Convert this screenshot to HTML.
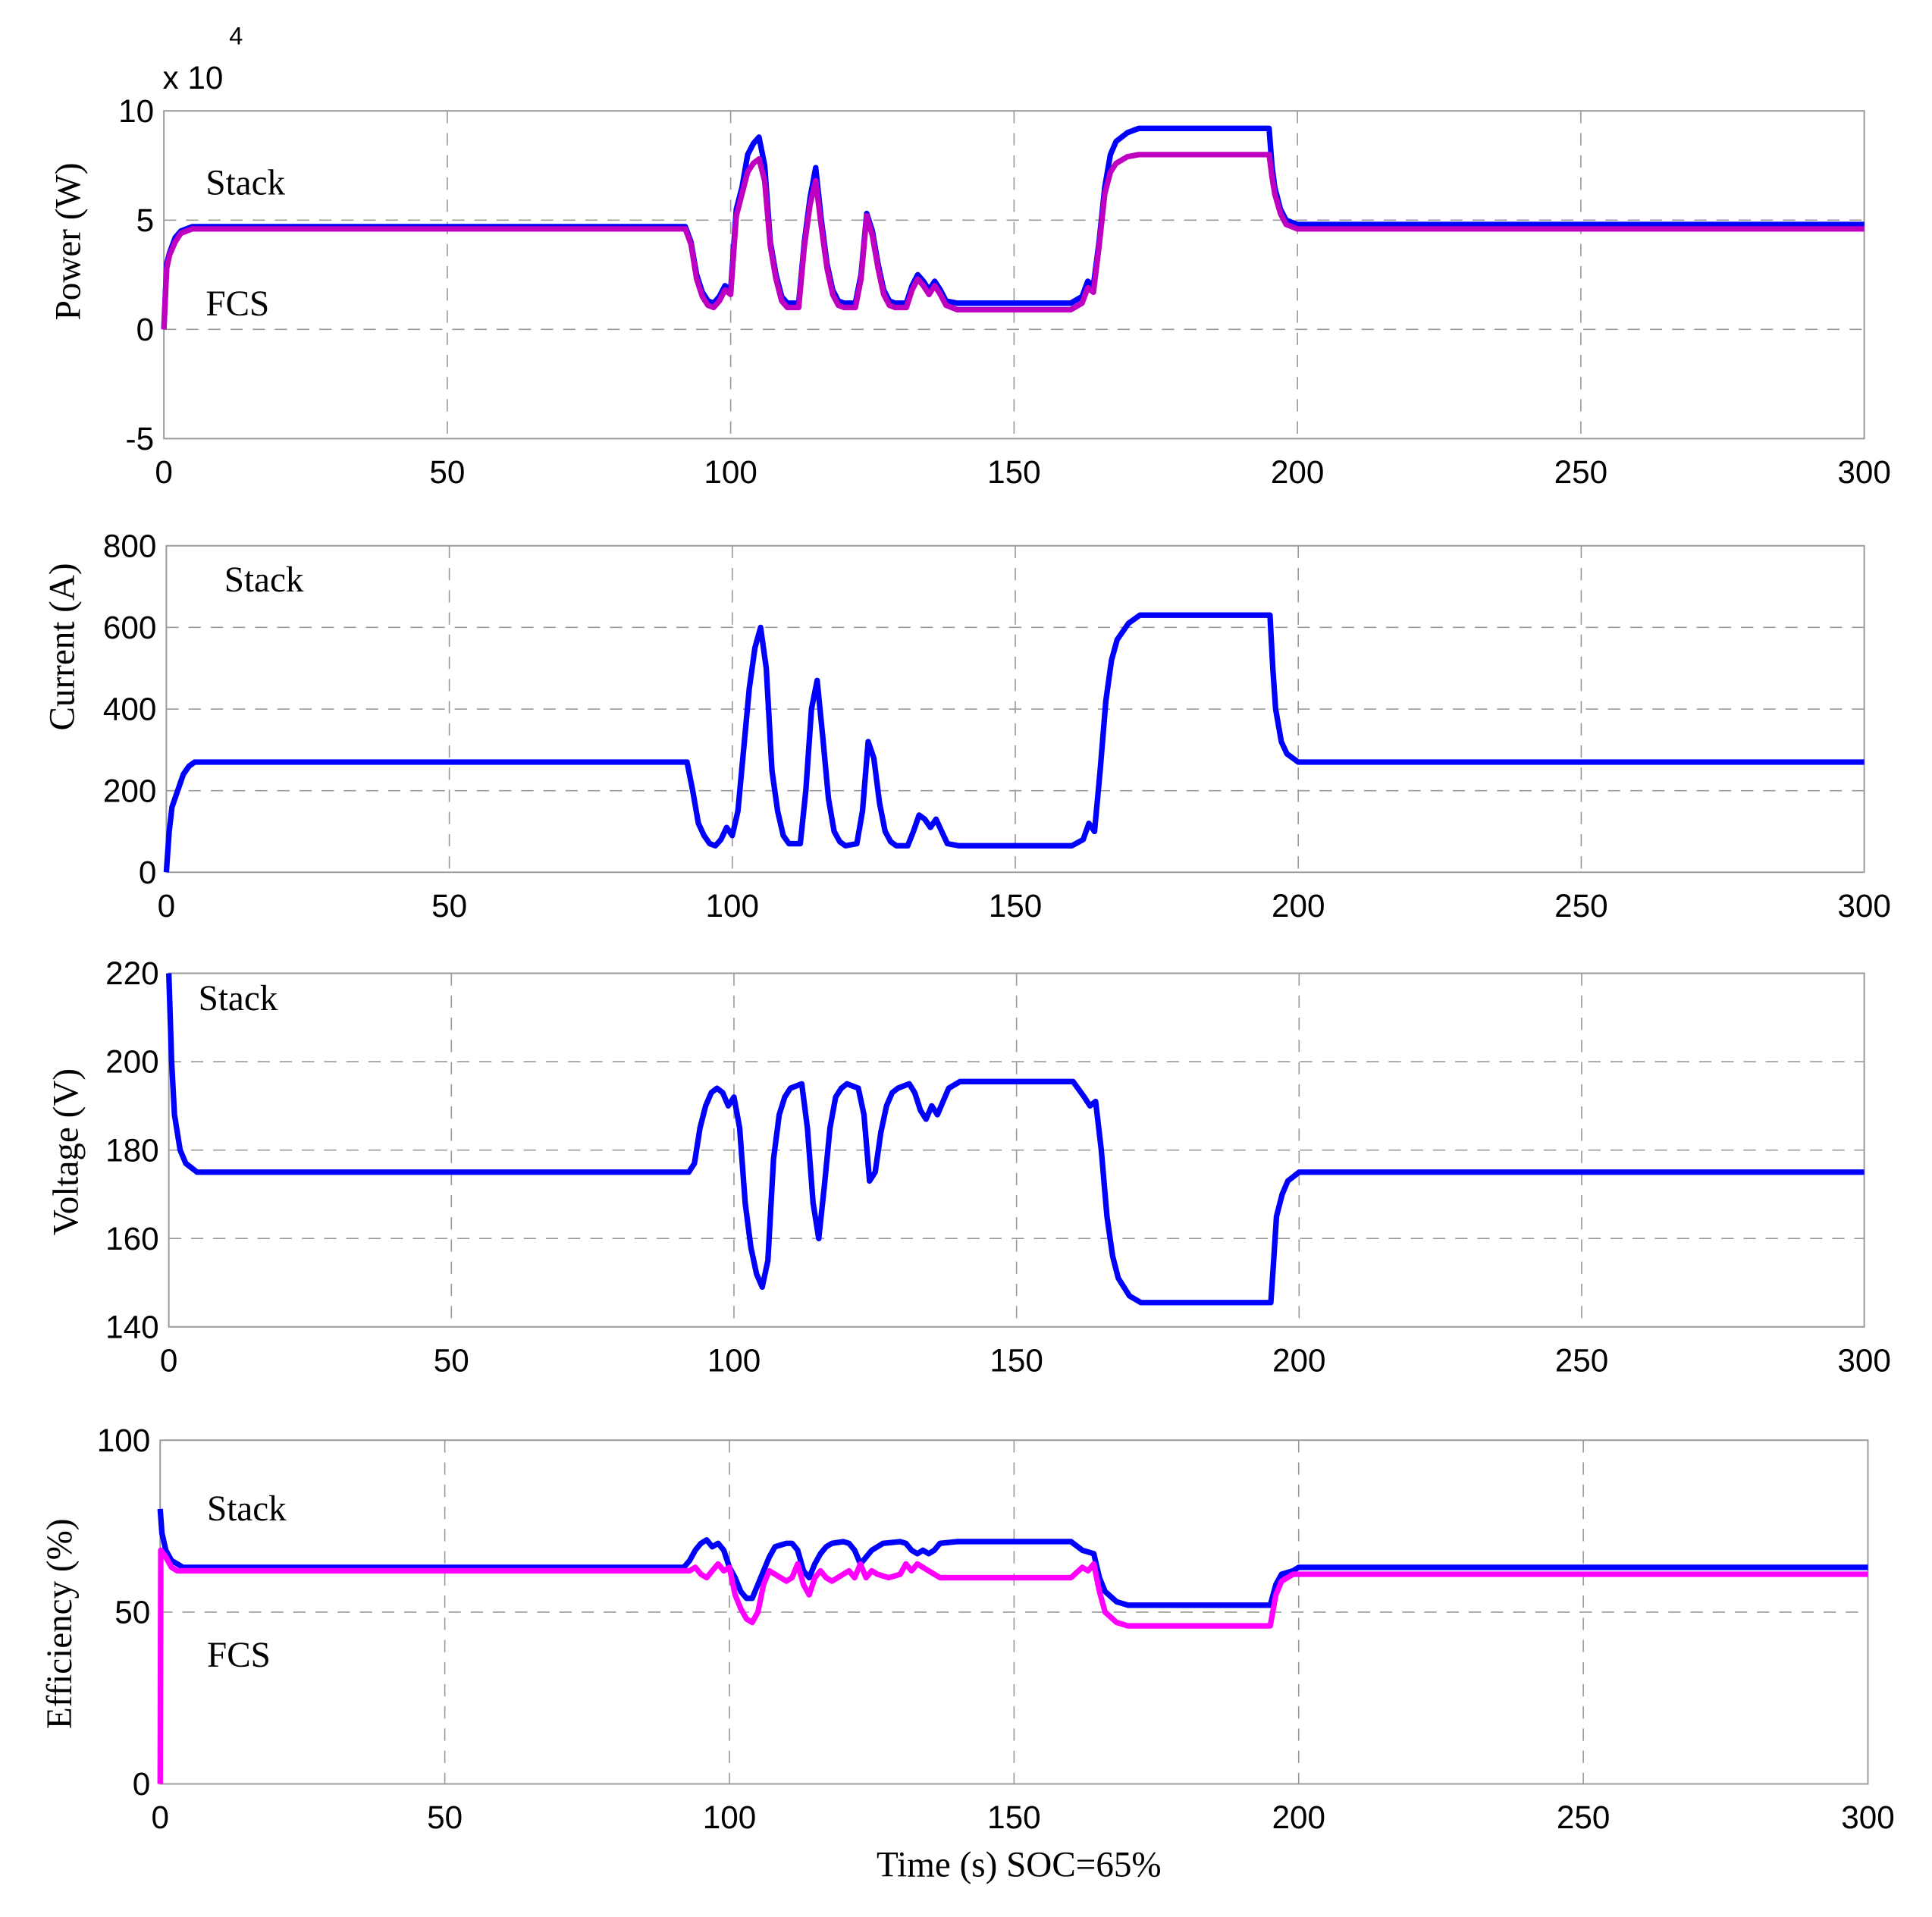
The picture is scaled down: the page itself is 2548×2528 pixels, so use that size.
<!DOCTYPE html>
<html><head><meta charset="utf-8"><style>
html,body{margin:0;padding:0;background:#fff;}
svg{display:block;}
.tick{font-family:"Liberation Sans",sans-serif;font-size:26px;fill:#000;}
.lab{font-family:"Liberation Serif",serif;font-size:29px;fill:#000;}
</style></head><body>
<svg id="chart" width="2548" height="2528" viewBox="0 0 1568 1556" preserveAspectRatio="none" xmlns="http://www.w3.org/2000/svg">
<g id="root"></g>
</svg>
<script>
const xTicks=[0,50,100,150,200,250,300];
const powerTicks=[-5,0,5,10];
const currentTicks=[0,200,400,600,800];
const voltageTicks=[140,160,180,200,220];
const effTicks=[0,50,100];

const powerT=[0,0.5,1,2,3,5,92,93,94,95,96,97,98,99,100,101,102,103,104,105,106,107,108,109,110,112,113,114,115,116,117,118,119,120,122,123,124,125,126,127,128,129,131,132,133,134,135,136,137,138,140,160,162,163,164,165,166,167,168,170,172,195,195.5,196,197,198,200,300];
const powerStack=[0,3,3.5,4.2,4.5,4.7,4.7,4,2.5,1.7,1.3,1.2,1.5,2.0,1.8,5.5,6.5,8,8.5,8.8,7.5,4,2.5,1.5,1.2,1.2,4,6,7.4,5,3,1.8,1.3,1.2,1.2,2.5,5.3,4.5,3,1.8,1.3,1.2,1.2,2,2.5,2.2,1.8,2.2,1.8,1.3,1.2,1.2,1.5,2.2,2.0,4,6.5,8,8.6,9,9.2,9.2,7.5,6.5,5.5,5,4.8,4.8];
const powerFCS=[0,2.8,3.4,4,4.4,4.6,4.6,3.9,2.3,1.5,1.1,1.0,1.3,1.8,1.6,5.2,6.2,7.2,7.6,7.8,6.8,3.8,2.3,1.3,1.0,1.0,3.8,5.7,6.8,4.7,2.8,1.6,1.1,1.0,1.0,2.3,5.2,4.3,2.8,1.6,1.1,1.0,1.0,1.8,2.3,2.0,1.6,2.0,1.6,1.1,0.9,0.9,1.2,1.9,1.7,3.8,6.2,7.2,7.6,7.9,8.0,8.0,7.0,6.2,5.3,4.8,4.6,4.6];

const curT=[0,0.5,1,2,3,4,5,92,93,94,95,96,97,98,99,100,101,102,103,104,105,106,107,108,109,110,112,113,114,115,116,117,118,119,120,122,123,124,125,126,127,128,129,131,132,133,134,135,136,137,138,140,160,162,163,164,165,166,167,168,170,172,195,195.5,196,197,198,200,300];
const current=[0,100,160,200,240,260,270,270,200,120,90,70,65,80,110,90,150,300,450,550,600,500,250,150,90,70,70,200,400,470,330,180,100,75,65,70,150,320,280,170,100,75,65,65,100,140,130,110,130,100,70,65,65,80,120,100,250,420,520,570,610,630,630,500,400,320,290,270,270];

const voltT=[0,0.5,1,2,3,5,92,93,94,95,96,97,98,99,100,101,102,103,104,105,106,107,108,109,110,112,113,114,115,116,117,118,119,120,122,123,124,125,126,127,128,129,131,132,133,134,135,136,137,138,140,160,162,163,164,165,166,167,168,170,172,195,195.5,196,197,198,200,300];
const voltage=[220,200,188,180,177,175,175,177,185,190,193,194,193,190,192,185,168,158,152,149,155,178,188,192,194,195,185,168,160,172,185,192,194,195,194,188,173,175,184,190,193,194,195,193,189,187,190,188,191,194,195.5,195.5,192,190,191,180,165,156,151,147,145.5,145.5,155,165,170,173,175,175];

const effT=[0,0.3,1,2,3,4,92,93,94,95,96,97,98,99,100,101,102,103,104,105,106,107,108,110,111,112,113,114,115,116,117,118,120,121,122,123,124,125,127,130,131,132,133,134,135,136,137,140,160,162,164,165,166,168,170,195,196,197,199,200,300];
const effStack=[80,73,68,65,64,63,63,65,68,70,71,69,70,68,63,60,56,54,54,58,62,66,69,70,70,68,62,60,64,67,69,70,70.5,70,68,64,66,68,70,70.5,70,68,67,68,67,68,70,70.5,70.5,68,67,60,56,53,52,52,58,61,62,63,63];
const effFT=[0,0.1,1,2,3,92,93,94,95,96,97,98,99,100,101,102,103,104,105,106,107,108,110,111,112,113,114,115,116,117,118,120,121,122,123,124,125,126,128,130,131,132,133,135,137,140,160,162,163,164,165,166,168,170,195,196,197,198,199,300];
const effFCS=[0,68,66,63,62,62,62,63,61,60,62,64,62,63,55,51,48,47,50,58,62,61,59,60,64,58,55,60,62,60,59,61,62,60,64,60,62,61,60,61,64,62,64,62,60,60,60,63,62,64,56,50,47,46,46,55,59,60,61,61];

const NS="http://www.w3.org/2000/svg";
const root=document.getElementById('root');
function mk(tag,attrs,parent){const e=document.createElementNS(NS,tag);for(const k in attrs)e.setAttribute(k,attrs[k]);(parent||root).appendChild(e);return e;}

function panel(name,x0,x1,y0,y1,ymin,ymax,yTicks){
  const g=mk('g',{});
  
  
  const sx=v=>x0+(v-0)/(300)*(x1-x0);
  const sy=v=>y1-(v-ymin)/(ymax-ymin)*(y1-y0);
  mk('rect',{x:x0,y:y0,width:x1-x0,height:y1-y0,fill:'#fff',stroke:'#999','stroke-width':1.2},g);
  xTicks.forEach(t=>{
    if(t>0&&t<300){const l=mk('line',{x1:sx(t),x2:sx(t),y1:y0,y2:y1,stroke:'#999','stroke-width':1,'stroke-dasharray':'10,8'},g);
    }
    const tx=mk('text',{x:sx(t),y:y1+36,'text-anchor':'middle',class:'tick'},g);
    
    tx.textContent=t;
  });
  yTicks.forEach(t=>{
    if(t>ymin&&t<ymax){const l=mk('line',{x1:x0,x2:x1,y1:sy(t),y2:sy(t),stroke:'#999','stroke-width':1,'stroke-dasharray':'10,8'},g);
    }
    const tx=mk('text',{x:x0-8,y:sy(t)+9,'text-anchor':'end',class:'tick'},g);
    
    tx.textContent=t;
  });
  return {g,sx,sy};
}
function series(p,ts,vs,color,name,w){
  const pts=ts.map((t,i)=>p.sx(t).toFixed(1)+','+p.sy(vs[i]).toFixed(1)).join(' ');
  const pl=mk('polyline',{points:pts,fill:'none',stroke:color,'stroke-width':w||4.5,'stroke-linejoin':'round'},p.g);
  
  
}
function text(x,y,s,cls,name,extra){
  const t=mk('text',Object.assign({x:x,y:y,class:cls},extra||{}));
  
  
  t.textContent=s;return t;
}

const p1=panel('power-panel',133,1513,90,356,-5,10,powerTicks);
series(p1,powerT,powerStack,'#0000ff','stack-power-line');
series(p1,powerT,powerFCS,'#c000c0','fcs-power-line');
text(132,72,'x 10','tick','exponent-label');
text(186,36,'4','tick','exponent-power',{style:'font-size:20px'});
text(167,158,'Stack','lab','stack-label-power');
text(167,256,'FCS','lab','fcs-label-power');
text(65,196,'Power (W)','lab','y-axis-title-power',{transform:'rotate(-90 65 196)','text-anchor':'middle'});

const p2=panel('current-panel',135,1513,443,708,0,800,currentTicks);
series(p2,curT,current,'#0000ff','stack-current-line');
text(182,480,'Stack','lab','stack-label-current');
text(60,525,'Current (A)','lab','y-axis-title-current',{transform:'rotate(-90 60 525)','text-anchor':'middle'});

const p3=panel('voltage-panel',137,1513,790,1077,140,220,voltageTicks);
series(p3,voltT,voltage,'#0000ff','stack-voltage-line');
text(161,820,'Stack','lab','stack-label-voltage');
text(63,935,'Voltage (V)','lab','y-axis-title-voltage',{transform:'rotate(-90 63 935)','text-anchor':'middle'});

const p4=panel('efficiency-panel',130,1516,1169,1448,0,100,effTicks);
series(p4,effT,effStack,'#0000ff','stack-efficiency-line');
series(p4,effFT,effFCS,'#ff00ff','fcs-efficiency-line');
text(168,1234,'Stack','lab','stack-label-efficiency');
text(168,1353,'FCS','lab','fcs-label-efficiency');
text(58,1318,'Efficiency  (%)','lab','y-axis-title-efficiency',{transform:'rotate(-90 58 1318)','text-anchor':'middle'});
text(827,1523,'Time (s)  SOC=65%','lab','x-axis-title',{'text-anchor':'middle'});
</script>
</body></html>
